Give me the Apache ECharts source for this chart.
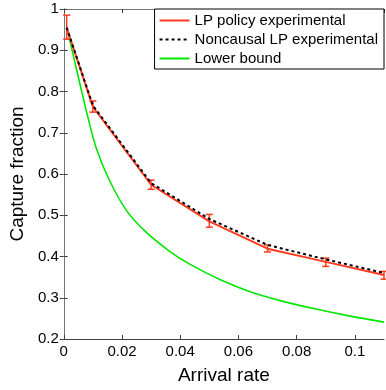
<!DOCTYPE html>
<html>
<head>
<meta charset="utf-8">
<script src="https://cdn.jsdelivr.net/npm/echarts@6/dist/echarts.min.js"></script>
<style>
  html, body { margin: 0; padding: 0; background: #fff; }
  #chart { width: 386px; height: 390px; }
</style>
</head>
<body>
<div id="chart"></div>
<script>
// arrival rates where the experiments were run
const rates = [0.001, 0.01, 0.03, 0.05, 0.07, 0.09, 0.11]
const lpPolicy = [0.955, 0.763, 0.574, 0.485, 0.419, 0.387, 0.355]
const lpLow = [0.927, 0.750, 0.563, 0.471, 0.411, 0.376, 0.345]
const lpHigh = [0.985, 0.777, 0.585, 0.502, 0.428, 0.396, 0.364]
const noncausal = [0.955, 0.766, 0.578, 0.491, 0.428, 0.393, 0.360]

// lower bound curve
const boundX = [0.001, 0.003, 0.0056, 0.0082, 0.0112, 0.0158, 0.0217, 0.0283, 0.0365, 0.0431, 0.054, 0.065, 0.076, 0.087, 0.098, 0.11]
const boundY = [0.957, 0.896, 0.817, 0.740, 0.662, 0.583, 0.510, 0.459, 0.412, 0.382, 0.343, 0.312, 0.290, 0.272, 0.256, 0.241]

const RED = '#ff3b1f'
const GREEN = '#00e600'
const AXIS = '#404040'
const FONT = "'Liberation Sans', Arial, sans-serif"

const chart = echarts.init(document.getElementById('chart'))

function errorBars(params, api) {
  const x = api.value(0)
  const lo = api.coord([x, api.value(1)])
  const hi = api.coord([x, api.value(2)])
  const w = 3.5
  const style = { stroke: RED, lineWidth: 1.5 }
  return {
    type: 'group',
    children: [
      { type: 'line', shape: { x1: lo[0], y1: lo[1], x2: hi[0], y2: hi[1] }, style },
      { type: 'line', shape: { x1: lo[0] - w, y1: lo[1], x2: lo[0] + w, y2: lo[1] }, style },
      { type: 'line', shape: { x1: hi[0] - w, y1: hi[1], x2: hi[0] + w, y2: hi[1] }, style }
    ]
  }
}

const tickStyle = { show: true, inside: true, length: 4, lineStyle: { color: AXIS, width: 1 } }

const option = {
  animation: false,
  textStyle: { fontFamily: FONT },
  grid: { left: 49, right: 2, top: 9, bottom: 39, containLabel: false },
  legend: {
    data: ['LP policy experimental', 'Noncausal LP experimental', 'Lower bound'],
    orient: 'vertical',
    right: 2,
    top: 9,
    padding: [4, 6, 3, 4],
    itemGap: 4,
    itemWidth: 30,
    itemHeight: 14,
    itemTextGap: 4,
    itemStyle: { opacity: 0 },
    backgroundColor: '#fff',
    borderColor: '#000',
    borderWidth: 1,
    borderRadius: 0,
    textStyle: { fontSize: 15, color: '#000', fontFamily: FONT }
  },
  xAxis: [
    {
      type: 'value',
      min: 0,
      max: 0.11,
      interval: 0.02,
      name: 'Arrival rate',
      nameLocation: 'middle',
      nameGap: 27,
      nameTextStyle: { fontSize: 19, color: '#000', fontFamily: FONT },
      axisLine: { show: true, lineStyle: { color: AXIS, width: 1 } },
      axisTick: tickStyle,
      axisLabel: { color: '#000', fontSize: 15, margin: 5, showMaxLabel: false, fontFamily: FONT },
      splitLine: { show: false }
    },
    {
      type: 'value',
      position: 'top',
      min: 0,
      max: 0.11,
      interval: 0.02,
      axisLine: { show: true, lineStyle: { color: '#777', width: 1 } },
      axisTick: tickStyle,
      axisLabel: { show: false },
      splitLine: { show: false }
    }
  ],
  yAxis: [
    {
      type: 'value',
      min: 0.2,
      max: 1,
      interval: 0.1,
      name: 'Capture fraction',
      nameLocation: 'middle',
      nameGap: 34,
      nameTextStyle: { fontSize: 19, color: '#000', fontFamily: FONT },
      axisLine: { show: true, lineStyle: { color: AXIS, width: 1 } },
      axisTick: tickStyle,
      axisLabel: { color: '#000', fontSize: 15, margin: 5, fontFamily: FONT },
      splitLine: { show: false }
    },
    {
      type: 'value',
      position: 'right',
      min: 0.2,
      max: 1,
      interval: 0.1,
      axisLine: { show: true, lineStyle: { color: '#777', width: 1 } },
      axisTick: tickStyle,
      axisLabel: { show: false },
      splitLine: { show: false }
    }
  ],
  series: [
    {
      name: 'Lower bound',
      type: 'line',
      smooth: 0.3,
      symbol: 'none',
      data: boundX.map((x, i) => [x, boundY[i]]),
      lineStyle: { color: GREEN, width: 1.6 },
      itemStyle: { color: GREEN },
      z: 2
    },
    {
      name: 'LP policy experimental',
      type: 'line',
      symbol: 'none',
      data: rates.map((x, i) => [x, lpPolicy[i]]),
      lineStyle: { color: RED, width: 2 },
      itemStyle: { color: RED },
      z: 3
    },
    {
      type: 'custom',
      renderItem: errorBars,
      encode: { x: 0, y: [1, 2] },
      data: rates.map((x, i) => [x, lpLow[i], lpHigh[i]]),
      z: 4
    },
    {
      name: 'Noncausal LP experimental',
      type: 'line',
      symbol: 'none',
      data: rates.map((x, i) => [x, noncausal[i]]),
      lineStyle: { color: '#000', width: 2, type: [3, 3] },
      itemStyle: { color: '#000' },
      z: 5
    }
  ]
}

chart.setOption(option)
</script>
</body>
</html>
